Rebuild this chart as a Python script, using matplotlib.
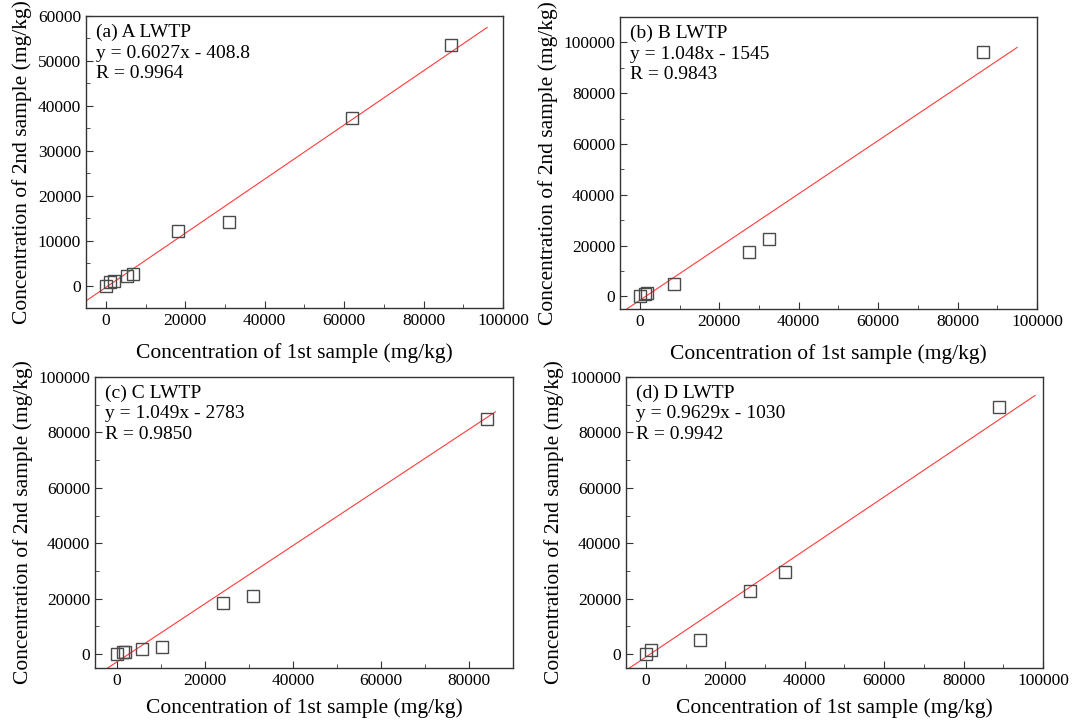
import matplotlib
matplotlib.use("Agg")
import matplotlib.pyplot as plt
import numpy as np
from matplotlib.ticker import MultipleLocator

plt.rcParams['font.family'] = ['Liberation Serif', 'DejaVu Serif']
plt.rcParams['mathtext.fontset'] = 'stix'

# data
a_x = [0, 1000, 2000, 5300, 6800, 18100, 31000, 62000, 87000]
a_y = [0, 700, 1100, 2200, 2600, 12200, 14200, 37200, 53500]
b_x = [0, 1300, 1800, 8600, 27400, 32500, 86300]
b_y = [0, 800, 1200, 4700, 17600, 22700, 96100]
c_x = [0, 1400, 1800, 5700, 10200, 24100, 31000, 84000]
c_y = [0, 700, 900, 1800, 2500, 18500, 21100, 85000]
d_x = [0, 1300, 13600, 26200, 35000, 89000]
d_y = [0, 1400, 5100, 22900, 29800, 89100]

titles = ["(a) A LWTP", "(b) B LWTP", "(c) C LWTP", "(d) D LWTP"]
eqs = ["y = 0.6027x - 408.8", "y = 1.048x - 1545", "y = 1.049x - 2783", "y = 0.9629x - 1030"]
rs = ["R = 0.9964", "R = 0.9843", "R = 0.9850", "R = 0.9942"]
slopes = [0.6027, 1.048, 1.049, 0.9629]
intercepts = [-408.8, -1545, -2783, -1030]
line_end = [96000, 95000, 86000, 98000]
xlims = [(-5000, 100000), (-5000, 100000), (-5000, 90000), (-5000, 100000)]
ylims = [(-5000, 60000), (-5000, 110000), (-5000, 100000), (-5000, 100000)]

xs = [a_x, b_x, c_x, d_x]
ys = [a_y, b_y, c_y, d_y]

W, H = 1076, 723
fig = plt.figure(figsize=(W / 100, H / 100), dpi=100)
# pixel boxes: left, right, top, bottom
boxes = [(86, 503, 16, 308), (620, 1037, 17, 309), (95, 513, 377, 668), (626, 1043, 377, 668)]

for i in range(4):
    l, r, t, b = boxes[i]
    ax = fig.add_axes([l / W, 1 - b / H, (r - l) / W, (b - t) / H])
    lx = np.linspace(xlims[i][0], line_end[i], 50)
    ax.plot(lx, slopes[i] * lx + intercepts[i], color='#ff3b3b', lw=0.8, zorder=2)
    ax.plot(xs[i], ys[i], linestyle='none', marker='s', markersize=8,
            markerfacecolor='none', markeredgecolor='#4a4a4a', markeredgewidth=1.0, zorder=3)
    ax.set_xlim(*xlims[i])
    ax.set_ylim(*ylims[i])
    ax.xaxis.set_major_locator(MultipleLocator(20000))
    ax.xaxis.set_minor_locator(MultipleLocator(10000))
    ax.yaxis.set_major_locator(MultipleLocator(20000 if i > 0 else 10000))
    ax.yaxis.set_minor_locator(MultipleLocator(10000 if i > 0 else 5000))
    ax.tick_params(which='both', direction='in', labelsize=12.5, color='#333333')
    ax.tick_params(which='major', length=5)
    ax.tick_params(which='minor', length=3)
    for s in ax.spines.values():
        s.set_color('#333333')
        s.set_linewidth(1.0)
    ax.set_xlabel("Concentration of 1st sample (mg/kg)", fontsize=15.5,
                  labelpad=10 if i < 2 else 7)
    ax.set_ylabel("Concentration of 2nd sample (mg/kg)", fontsize=15.5, labelpad=4)
    ax.text(0.025, 0.975, titles[i] + "\n" + eqs[i] + "\n" + rs[i], transform=ax.transAxes,
            ha='left', va='top', fontsize=14, linespacing=1.3)

fig.savefig("out.png", dpi=100)
